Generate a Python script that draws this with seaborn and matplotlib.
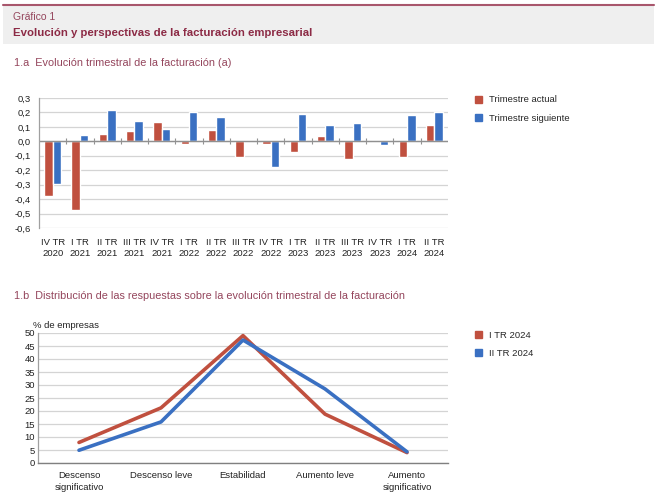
import numpy as np
import pandas as pd
import seaborn as sns
import matplotlib.pyplot as plt
from matplotlib.patches import Patch, Rectangle
from matplotlib.ticker import FuncFormatter

# data
trimestres = ['IV TR\n2020', 'I TR\n2021', 'II TR\n2021', 'III TR\n2021', 'IV TR\n2021',
              'I TR\n2022', 'II TR\n2022', 'III TR\n2022', 'IV TR\n2022', 'I TR\n2023',
              'II TR\n2023', 'III TR\n2023', 'IV TR\n2023', 'I TR\n2024', 'II TR\n2024']
actual = [-0.377, -0.474, 0.053, 0.07, 0.133, -0.02, 0.08, -0.105, -0.02, -0.075,
          0.037, -0.123, 0.0, -0.11, 0.11]
siguiente = [-0.295, 0.042, 0.22, 0.14, 0.086, 0.205, 0.17, 0.0, -0.175, 0.19,
             0.114, 0.13, -0.023, 0.18, 0.205]

respuestas = ['Descenso\nsignificativo', 'Descenso leve', 'Estabilidad',
              'Aumento leve', 'Aumento\nsignificativo']
tr1_2024 = [7.9, 21.2, 49.0, 18.8, 4.0]
tr2_2024 = [4.9, 15.8, 47.3, 28.5, 4.3]

RED = '#c0503f'
BLUE = '#3a70c2'
TITLE_RED = '#8c2a45'
SUB_RED = '#94455c'
FS = 6.8

sns.set_theme(style='white')
plt.rcParams['font.family'] = ['Liberation Sans', 'DejaVu Sans']

fig = plt.figure(figsize=(6.57, 5.01), dpi=100)

# header band
fig.patches.append(Rectangle((0.005, 1 - 44 / 501), 0.99, 39 / 501, transform=fig.transFigure,
                             facecolor='#efefef', edgecolor='none', zorder=0))
fig.lines.append(plt.Line2D([0.005, 0.995], [1 - 5 / 501, 1 - 5 / 501], transform=fig.transFigure,
                            color='#a8566c', lw=1.5))
fig.text(13 / 657, 1 - 17 / 501, 'Gráfico 1', color=SUB_RED, fontsize=7.5, va='center')
fig.text(13 / 657, 1 - 33 / 501, 'Evolución y perspectivas de la facturación empresarial',
         color=TITLE_RED, fontsize=8.2, fontweight='bold', va='center')
fig.text(14 / 657, 1 - 63 / 501, '1.a  Evolución trimestral de la facturación (a)',
         color=SUB_RED, fontsize=7.8, va='center')
fig.text(14 / 657, 1 - 296 / 501,
         '1.b  Distribución de las respuestas sobre la evolución trimestral de la facturación',
         color=SUB_RED, fontsize=7.8, va='center')

comma = FuncFormatter(lambda v, p: f'{round(v, 1) + 0.0:.1f}'.replace('.', ',').replace('-0,0', '0,0'))

# 1.a bars
df_a = pd.DataFrame({
    'trimestre': trimestres * 2,
    'valor': actual + siguiente,
    'serie': ['Trimestre actual'] * len(trimestres) + ['Trimestre siguiente'] * len(trimestres),
})
ax1 = fig.add_axes([39 / 657, 1 - 228 / 501, 409 / 657, 130 / 501])
sns.barplot(data=df_a, x='trimestre', y='valor', hue='serie', palette=[RED, BLUE],
            width=0.62, ax=ax1, legend=False, saturation=1)
ax1.set_ylim(-0.6, 0.3)
ax1.set_xlim(-0.5, len(trimestres) - 0.5)
ax1.set_yticks(np.arange(-0.6, 0.31, 0.1))
ax1.yaxis.set_major_formatter(comma)
ax1.yaxis.grid(True, color='#d4d4d4', lw=0.9)
ax1.set_axisbelow(True)
ax1.set_xlabel('')
ax1.set_ylabel('')
for s in ['top', 'right', 'bottom']:
    ax1.spines[s].set_visible(False)
ax1.spines['left'].set_color('#a0a0a0')
ax1.spines['left'].set_linewidth(0.9)
ax1.axhline(0, color='#909090', lw=1.0, zorder=1)
ax1.tick_params(axis='both', labelsize=FS, length=0, colors='#222222')
ax1.tick_params(axis='y', pad=6)
ax1.tick_params(axis='x', pad=7)
for t in ax1.get_xticklabels():
    t.set_linespacing(1.35)
sec = ax1.secondary_xaxis(2 / 3)
sec.set_xticks(np.arange(0.5, len(trimestres) - 0.5, 1))
sec.set_xticklabels([])
sec.tick_params(length=4, direction='inout', color='#909090', width=0.8)
sec.spines['bottom'].set_visible(False)
sec.spines['top'].set_visible(False)

fig.legend(handles=[Patch(color=RED, label='Trimestre actual'),
                    Patch(color=BLUE, label='Trimestre siguiente')],
           loc='upper left', bbox_to_anchor=(466 / 657, 1 - 87 / 501), frameon=False,
           fontsize=FS, handlelength=0.75, handleheight=0.75, handletextpad=0.8,
           labelspacing=1.0)

# 1.b lines
df_b = pd.DataFrame({
    'respuesta': respuestas * 2,
    'pct': tr1_2024 + tr2_2024,
    'serie': ['I TR 2024'] * 5 + ['II TR 2024'] * 5,
})
ax2 = fig.add_axes([38 / 657, 1 - 463 / 501, 410 / 657, 130 / 501])
sns.lineplot(data=df_b, x='respuesta', y='pct', hue='serie', palette=[RED, BLUE],
             lw=2.6, ax=ax2, legend=False, sort=False)
ax2.set_ylim(0, 50)
ax2.set_xlim(-0.5, 4.5)
ax2.set_yticks(np.arange(0, 51, 5))
ax2.yaxis.grid(True, color='#d4d4d4', lw=0.9)
ax2.set_axisbelow(True)
ax2.set_xlabel('')
ax2.set_ylabel('')
for s in ['top', 'right']:
    ax2.spines[s].set_visible(False)
ax2.spines['left'].set_color('#a0a0a0')
ax2.spines['bottom'].set_color('#808080')
ax2.spines['left'].set_linewidth(0.9)
ax2.spines['bottom'].set_linewidth(1.0)
ax2.tick_params(axis='both', labelsize=FS, length=0, pad=2, colors='#222222')
ax2.tick_params(axis='x', pad=6)
for t in ax2.get_xticklabels():
    t.set_linespacing(1.4)
ax2.set_xticks(np.arange(0.5, 4.5, 1), minor=True)
ax2.tick_params(axis='x', which='minor', length=3, direction='in', color='#909090', width=0.8)
ax2.text(-0.012, 1.02, '% de empresas', transform=ax2.transAxes, fontsize=FS,
         va='bottom', ha='left', color='#222222')

fig.legend(handles=[Patch(color=RED, label='I TR 2024'),
                    Patch(color=BLUE, label='II TR 2024')],
           loc='upper left', bbox_to_anchor=(466 / 657, 1 - 322 / 501), frameon=False,
           fontsize=FS, handlelength=0.75, handleheight=0.75, handletextpad=0.8,
           labelspacing=1.0)

fig.savefig('out.png', dpi=100)
